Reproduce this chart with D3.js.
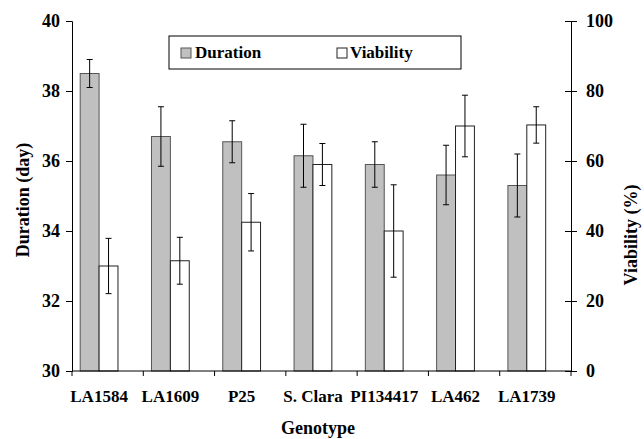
<!DOCTYPE html>
<html>
<head>
<meta charset="utf-8">
<script src="https://cdn.jsdelivr.net/npm/d3@7"></script>
<style>
  body { margin: 0; background: #fff; }
</style>
</head>
<body>
<div id="chart-area"></div>
<script>
//============================DATA============================
var genotypes = ["LA1584", "LA1609", "P25", "S. Clara", "PI134417", "LA462", "LA1739"];
var duration = [38.5, 36.7, 36.55, 36.15, 35.9, 35.6, 35.3];
var durationErr = [0.4, 0.85, 0.6, 0.9, 0.65, 0.85, 0.9];
var viability = [30, 31.5, 42.5, 59, 40, 70, 70.3];
var viabilityErr = [7.9, 6.7, 8.2, 6, 13.2, 8.8, 5.2];
var durationTicks = [30, 32, 34, 36, 38, 40];
var viabilityTicks = [0, 20, 40, 60, 80, 100];

var FONT = "'Liberation Serif', 'Times New Roman', monospace";

//============================LAYOUT============================
var W = 644, H = 439;
var margins = { left: 72, right: 73, top: 21, bottom: 68 };
var width = W - margins.left - margins.right;
var height = H - margins.top - margins.bottom;

var svg = d3.select("body").append("svg")
    .attr("width", W)
    .attr("height", H);
var g = svg.append("g")
    .attr("transform", "translate(" + margins.left + "," + margins.top + ")");

// scales
var x = d3.scaleBand().domain(genotypes).range([0, width]);
var yL = d3.scaleLinear().domain([30, 40]).range([height, 0]);
var yR = d3.scaleLinear().domain([0, 100]).range([height, 0]);

var bw = x.bandwidth();
var barW = bw * 0.265;
var offDur = bw * 0.115;
var offVia = offDur + barW;

var rows = genotypes.map(function(d, i) {
    return { g: d, dur: duration[i], durErr: durationErr[i], via: viability[i], viaErr: viabilityErr[i] };
});

// bars - duration
g.selectAll("rect.dur").data(rows).enter().append("rect")
    .attr("class", "dur")
    .attr("x", function(d) { return x(d.g) + offDur; })
    .attr("y", function(d) { return yL(d.dur); })
    .attr("width", barW)
    .attr("height", function(d) { return height - yL(d.dur); })
    .attr("fill", "#c0c0c0")
    .attr("stroke", "#555")
    .attr("stroke-width", 1);

// bars - viability
g.selectAll("rect.via").data(rows).enter().append("rect")
    .attr("class", "via")
    .attr("x", function(d) { return x(d.g) + offVia; })
    .attr("y", function(d) { return yR(d.via); })
    .attr("width", barW)
    .attr("height", function(d) { return height - yR(d.via); })
    .attr("fill", "#fff")
    .attr("stroke", "#222")
    .attr("stroke-width", 1);

// error bars
function errBars(cls, off, scale, val, err) {
    var eg = g.selectAll("g." + cls).data(rows).enter().append("g")
        .attr("class", cls)
        .attr("stroke", "#000")
        .attr("stroke-width", 1);
    var cx = function(d) { return x(d.g) + off + barW / 2; };
    eg.append("line")
        .attr("x1", cx).attr("x2", cx)
        .attr("y1", function(d) { return scale(d[val] + d[err]); })
        .attr("y2", function(d) { return scale(d[val] - d[err]); });
    [1, -1].forEach(function(s) {
        eg.append("line")
            .attr("x1", function(d) { return cx(d) - 3; })
            .attr("x2", function(d) { return cx(d) + 3; })
            .attr("y1", function(d) { return scale(d[val] + s * d[err]); })
            .attr("y2", function(d) { return scale(d[val] + s * d[err]); });
    });
}
errBars("edur", offDur, yL, "dur", "durErr");
errBars("evia", offVia, yR, "via", "viaErr");

// left axis
var yAxisL = g.append("g").attr("class", "y-axis-left")
    .call(d3.axisLeft(yL).tickValues(durationTicks).tickSize(6).tickPadding(6).tickFormat(d3.format("d")));
// right axis
var yAxisR = g.append("g").attr("class", "y-axis-right")
    .attr("transform", "translate(" + width + ",0)")
    .call(d3.axisRight(yR).tickValues(viabilityTicks).tickSize(6).tickPadding(9).tickFormat(d3.format("d")));
yAxisR.selectAll(".tick line").attr("x1", -6);

// x axis: ticks on category boundaries
var boundaries = genotypes.map(function(d) { return x(d); }).concat([width]);
var xAxis = g.append("g").attr("class", "x-axis")
    .attr("transform", "translate(0," + height + ")");
xAxis.append("line").attr("x1", 0).attr("x2", width).attr("stroke", "#000");
xAxis.selectAll("line.tk").data(boundaries).enter().append("line")
    .attr("class", "tk")
    .attr("x1", function(d) { return d; }).attr("x2", function(d) { return d; })
    .attr("y1", 0).attr("y2", 5)
    .attr("stroke", "#000");
xAxis.selectAll("text").data(genotypes).enter().append("text")
    .attr("x", function(d) { return x(d) + offDur + barW; })
    .attr("y", 31)
    .attr("text-anchor", "middle")
    .style("font-size", "17px")
    .attr("fill", "#000")
    .text(function(d) { return d; });

[yAxisL, yAxisR].forEach(function(a) {
    a.attr("font-family", null);
    a.select(".domain").attr("stroke", "#000");
    a.selectAll(".tick line").attr("stroke", "#000");
    a.selectAll("text").attr("fill", "#000").style("font-size", "18px");
});

// axis titles
svg.append("text")
    .attr("transform", "translate(29,200) rotate(-90)")
    .attr("text-anchor", "middle")
    .style("font-size", "18px")
    .text("Duration (day)");
svg.append("text")
    .attr("transform", "translate(637,235) rotate(-90)")
    .attr("text-anchor", "middle")
    .style("font-size", "18px")
    .text("Viability (%)");
svg.append("text")
    .attr("x", 318).attr("y", 434)
    .attr("text-anchor", "middle")
    .style("font-size", "18px")
    .text("Genotype");

// legend
var leg = svg.append("g").attr("transform", "translate(169,36)");
leg.append("rect").attr("width", 292).attr("height", 33)
    .attr("fill", "#fff").attr("stroke", "#000");
leg.append("rect").attr("x", 12).attr("y", 12).attr("width", 10).attr("height", 10)
    .attr("fill", "#c0c0c0").attr("stroke", "#555");
leg.append("text").attr("x", 26).attr("y", 22).style("font-size", "17px").text("Duration");
leg.append("rect").attr("x", 168).attr("y", 12).attr("width", 10).attr("height", 10)
    .attr("fill", "#fff").attr("stroke", "#222");
leg.append("text").attr("x", 181).attr("y", 22).style("font-size", "17px").text("Viability");

// all texts: bold serif
svg.selectAll("text").each(function() {
    this.style.fontFamily = FONT;
    this.style.fontWeight = "bold";
});
</script>
</body>
</html>
